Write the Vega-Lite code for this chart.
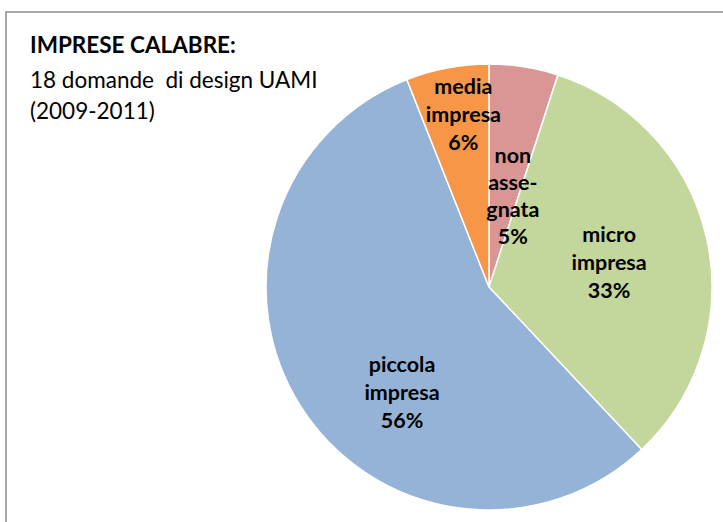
{
  "$schema": "https://vega.github.io/schema/vega-lite/v6.json",
  "autosize": "none",
  "width": 966,
  "height": 550,
  "padding": {"left": 6, "top": 12, "right": -249, "bottom": -40},
  "background": "white",
  "config": {
    "view": {"stroke": null},
    "font": "Lato"
  },
  "title": {
    "text": "IMPRESE CALABRE:",
    "subtitle": ["18 domande\u00a0\u00a0di design UAMI", "(2009-2011)"],
    "anchor": "start",
    "frame": "group",
    "orient": "top",
    "dx": 24,
    "offset": -112,
    "font": "Lato",
    "fontSize": 22.5,
    "fontWeight": "bold",
    "color": "black",
    "subtitleFont": "Lato",
    "subtitleFontSize": 22.5,
    "subtitleColor": "black",
    "subtitleLineHeight": 31,
    "subtitlePadding": 12
  },
  "data": {
    "values": [
      {"categoria": "non assegnata", "valore": 5, "etichetta": "non\nasse-\ngnata\n5%"},
      {"categoria": "micro impresa", "valore": 33, "etichetta": "micro\nimpresa\n33%"},
      {"categoria": "piccola impresa", "valore": 56, "etichetta": "piccola\nimpresa\n56%"},
      {"categoria": "media impresa", "valore": 6, "etichetta": "media\nimpresa\n6%"}
    ]
  },
  "transform": [
    {"window": [{"op": "row_number", "as": "ordine"}]},
    {"stack": "valore", "groupby": [], "sort": [{"field": "ordine", "order": "ascending"}], "as": ["s0", "s1"]},
    {"calculate": "(datum.s0 + datum.s1) / 2", "as": "mezzo"}
  ],
  "layer": [
    {
      "data": {"values": [{"cornice": 1}]},
      "mark": {"type": "rect", "fill": null, "stroke": "#8c8c8c", "strokeWidth": 1.5},
      "encoding": {}
    },
    {
      "mark": {"type": "arc", "outerRadius": 223, "stroke": "white", "strokeWidth": 1.5},
      "encoding": {
        "theta": {"field": "s0", "type": "quantitative", "scale": {"domain": [0, 100]}},
        "theta2": {"field": "s1"},
        "color": {
          "field": "categoria",
          "type": "nominal",
          "scale": {
            "domain": ["non assegnata", "micro impresa", "piccola impresa", "media impresa"],
            "range": ["#D99694", "#C3D69B", "#95B3D7", "#F79646"]
          },
          "legend": null
        }
      }
    },
    {
      "transform": [{"filter": "datum.categoria === 'non assegnata'"}],
      "mark": {"type": "text", "radius": 95, "dx": 9, "dy": -36, "lineBreak": "\n", "fontSize": 21.5, "fontWeight": "bold", "lineHeight": 27, "font": "Lato", "color": "black", "baseline": "middle", "align": "center"},
      "encoding": {
        "theta": {"field": "mezzo", "type": "quantitative"},
        "text": {"field": "etichetta", "type": "nominal"}
      }
    },
    {
      "transform": [{"filter": "datum.categoria === 'micro impresa'"}],
      "mark": {"type": "text", "radius": 120, "dx": 3, "dy": -25, "lineBreak": "\n", "fontSize": 21.5, "fontWeight": "bold", "lineHeight": 28, "font": "Lato", "color": "black", "baseline": "middle", "align": "center"},
      "encoding": {
        "theta": {"field": "mezzo", "type": "quantitative"},
        "text": {"field": "etichetta", "type": "nominal"}
      }
    },
    {
      "transform": [{"filter": "datum.categoria === 'piccola impresa'"}],
      "mark": {"type": "text", "radius": 135, "dx": 27, "dy": 7, "lineBreak": "\n", "fontSize": 21.5, "fontWeight": "bold", "lineHeight": 28, "font": "Lato", "color": "black", "baseline": "middle", "align": "center"},
      "encoding": {
        "theta": {"field": "mezzo", "type": "quantitative"},
        "text": {"field": "etichetta", "type": "nominal"}
      }
    },
    {
      "transform": [{"filter": "datum.categoria === 'media impresa'"}],
      "mark": {"type": "text", "radius": 174, "dx": 7, "dy": -28, "lineBreak": "\n", "fontSize": 21.5, "fontWeight": "bold", "lineHeight": 28, "font": "Lato", "color": "black", "baseline": "middle", "align": "center"},
      "encoding": {
        "theta": {"field": "mezzo", "type": "quantitative"},
        "text": {"field": "etichetta", "type": "nominal"}
      }
    }
  ]
}
